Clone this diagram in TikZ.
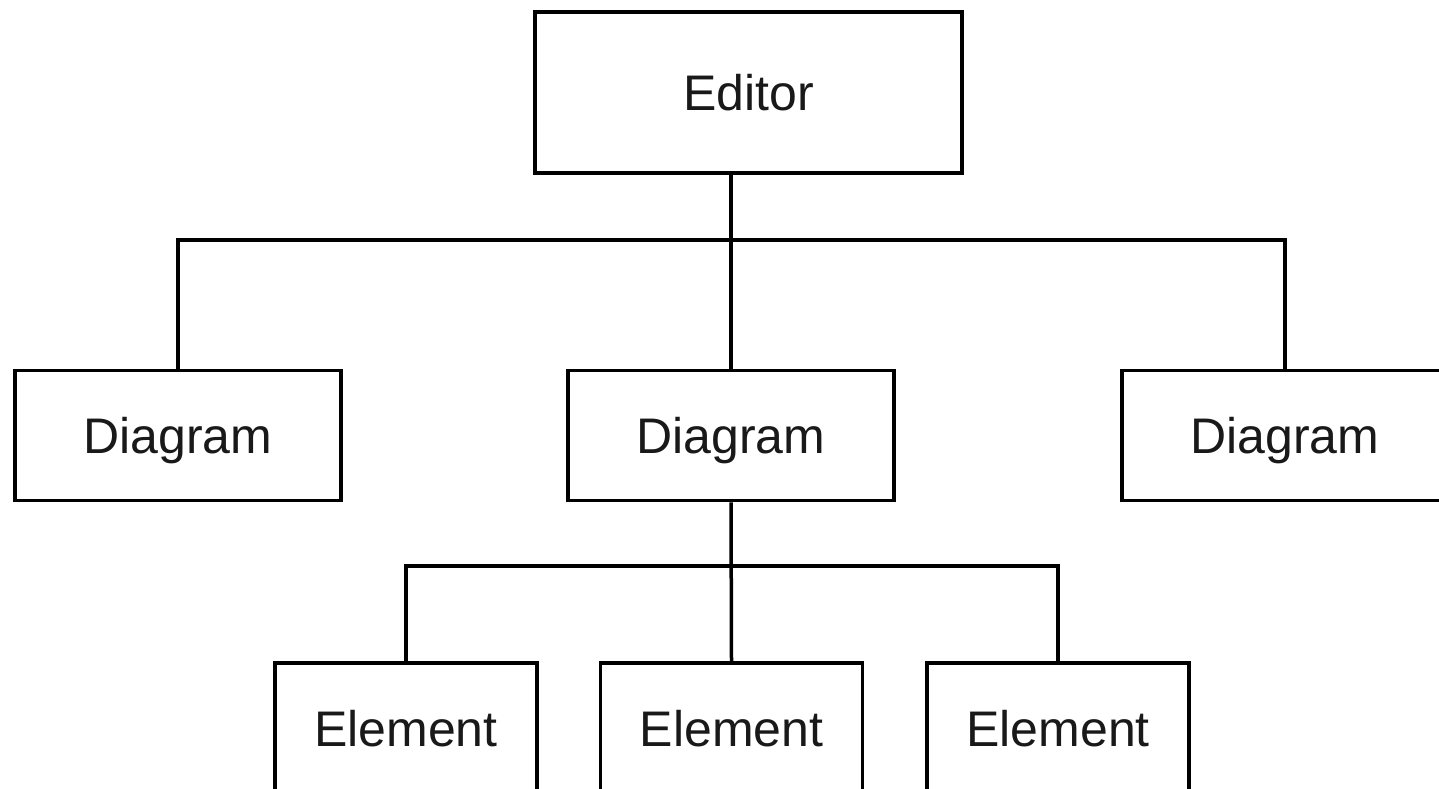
\documentclass[tikz,border=0pt]{standalone}
\usepackage{fontspec}
\setmainfont{Liberation Sans}
\begin{document}
\begin{tikzpicture}[x=1pt,y=-1pt,
  box/.style={draw=black, line width=3.5pt, rectangle, inner sep=0pt, fill=white,
    font=\fontsize{50}{60}\selectfont, text=black!90, text height=36pt, text depth=0pt},
  edbox/.style={box, minimum width=427pt, minimum height=161pt},
  dgbox/.style={box, minimum width=326pt, minimum height=130pt},
  elbox/.style={box, minimum width=262pt, minimum height=130pt},
  wire/.style={draw=black, line width=3.5pt}]
\useasboundingbox (0,0) rectangle (1439,789);
\clip (0,0) rectangle (1439,789);
\fill[white] (0,0) rectangle (1439,789);
\node[edbox] (ed) at (748.5,92.5) {Editor};
\node[dgbox] (d1) at (178,435.5) {Diagram};
\node[dgbox] (d2) at (731,435.5) {Diagram};
\node[dgbox] (d3) at (1285,435.5) {Diagram};
\node[elbox] (e1) at (406,728) {Element};
\node[elbox] (e2) at (731.5,728) {Element};
\node[elbox] (e3) at (1058,728) {Element};
\coordinate (b1) at (731,240);
\coordinate (b2) at (731,566);
\draw[wire] (ed.south -| d2.north) -- (d2.north);
\draw[wire] (d1.north) |- (b1) -| (d3.north);
\draw[wire] (d2.south) -- (e2.north);
\draw[wire] (e1.north) |- (b2) -| (e3.north);
\end{tikzpicture}
\end{document}
